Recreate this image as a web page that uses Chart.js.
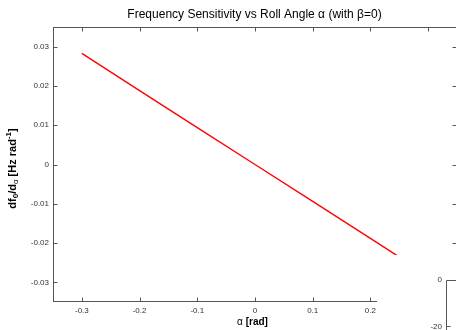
<!DOCTYPE html>
<html>
<head>
<meta charset="utf-8">
<script src="https://cdn.jsdelivr.net/npm/chart.js@4"></script>
<style>
html,body{margin:0;padding:0;background:#fff;overflow:hidden;}
#wrap{width:458px;height:330px;}
</style>
</head>
<body>
<div id="wrap"><canvas id="c" width="458" height="330"></canvas></div>
<script>
// ---- data ----
const alphaValues = [-0.3, -0.2, -0.1, 0, 0.1, 0.2, 0.3];
const sensitivityValues = [0.0283, 0.0188, 0.0094, 0.0, -0.0094, -0.0188, -0.0283];
const xTickValues = [-0.3, -0.2, -0.1, 0, 0.1, 0.2, 0.3];
const xTickLabels = ['-0.3', '-0.2', '-0.1', '0', '0.1', '0.2', '0.3'];
const yTickValues = [0.03, 0.02, 0.01, 0, -0.01, -0.02, -0.03];
const yTickLabels = ['0.03', '0.02', '0.01', '0', '-0.01', '-0.02', '-0.03'];
const insetTickLabels = ['0', '-20'];
const titleText = 'Frequency Sensitivity vs Roll Angle \u03b1 (with \u03b2=0)';

const AX = '#555';
const TXT = '#333';
const FONT = 'Arial, "Liberation Sans", sans-serif';

const points = alphaValues.map((a, i) => ({x: a, y: sensitivityValues[i]}));

const decor = {
  id: 'decor',
  afterDatasetsDraw(chart) {
    const {ctx, chartArea: ca, scales} = chart;
    ctx.save();
    ctx.strokeStyle = AX;
    ctx.lineWidth = 1;
    const L = Math.round(ca.left) + 0.5, R = Math.round(ca.right) - 0.5;
    const T = Math.round(ca.top) + 0.5, B = Math.round(ca.bottom) - 0.5;
    ctx.strokeRect(L, T, R - L, B - T);
    const tl = 4;
    ctx.beginPath();
    xTickValues.forEach(v => {
      const px = Math.round(scales.x.getPixelForValue(v)) + 0.5;
      ctx.moveTo(px, B); ctx.lineTo(px, B - tl);
      ctx.moveTo(px, T); ctx.lineTo(px, T + tl);
    });
    yTickValues.forEach(v => {
      const py = Math.round(scales.y.getPixelForValue(v)) + 0.5;
      ctx.moveTo(L, py); ctx.lineTo(L + tl, py);
      ctx.moveTo(R, py); ctx.lineTo(R - tl, py);
    });
    ctx.stroke();
    ctx.restore();
  },
  afterDraw(chart) {
    const {ctx, chartArea: ca} = chart;
    ctx.save();
    // title
    ctx.fillStyle = '#000';
    ctx.font = '12px ' + FONT;
    ctx.textAlign = 'center';
    ctx.textBaseline = 'middle';
    ctx.fillText(titleText, (ca.left + 456) / 2, 15);

    // x label: "α [rad]"
    const xc = (ca.left + 456) / 2 - 2;
    ctx.textBaseline = 'middle';
    const a1 = '\u03b1 ';
    ctx.font = 'bold 10px ' + FONT;
    const w2 = ctx.measureText('[rad]').width;
    ctx.font = '10px ' + FONT;
    const w1 = ctx.measureText(a1).width;
    let sx = xc - (w1 + w2) / 2;
    ctx.textAlign = 'left';
    ctx.fillText(a1, sx, 322);
    ctx.font = 'bold 10px ' + FONT;
    ctx.fillText('[rad]', sx + w1, 322);

    // y label rotated
    ctx.save();
    ctx.translate(13, (ca.top + ca.bottom) / 2 + 4);
    ctx.rotate(-Math.PI / 2);
    const parts = [
      {t: 'df', f: 'bold 11px ', dy: 0},
      {t: '0', f: 'bold 8px ', dy: 3},
      {t: '/d', f: 'bold 11px ', dy: 0},
      {t: '\u03b1', f: '8px ', dy: 3},
      {t: ' [Hz rad', f: 'bold 11px ', dy: 0},
      {t: '-1', f: 'bold 8px ', dy: -4},
      {t: ']', f: 'bold 11px ', dy: 0}
    ];
    let tw = 0;
    parts.forEach(p => { ctx.font = p.f + FONT; p.w = ctx.measureText(p.t).width; tw += p.w; });
    let px = -tw / 2;
    ctx.textAlign = 'left';
    ctx.textBaseline = 'middle';
    parts.forEach(p => { ctx.font = p.f + FONT; ctx.fillText(p.t, px, p.dy); px += p.w; });
    ctx.restore();

    // overlapping neighbouring axes (white background + partial axis)
    ctx.fillStyle = '#fff';
    ctx.fillRect(377, 255, 100, 100);
    ctx.strokeStyle = AX;
    ctx.lineWidth = 1;
    ctx.beginPath();
    ctx.moveTo(446.5, 330); ctx.lineTo(446.5, 280.5); ctx.lineTo(458, 280.5);
    ctx.moveTo(446.5, 326.5); ctx.lineTo(450.5, 326.5);
    ctx.stroke();
    ctx.fillStyle = TXT;
    ctx.font = '8px ' + FONT;
    ctx.textAlign = 'right';
    ctx.textBaseline = 'middle';
    ctx.fillText(insetTickLabels[0], 442, 280);
    ctx.fillText(insetTickLabels[1], 442, 327);
    ctx.restore();
  }
};

new Chart(document.getElementById('c'), {
  type: 'scatter',
  data: {
    datasets: [{
      data: points,
      showLine: true,
      borderColor: '#ff0000',
      borderWidth: 1.4,
      pointRadius: 0,
      tension: 0,
      fill: false
    }]
  },
  options: {
    responsive: false,
    animation: false,
    devicePixelRatio: 1,
    layout: {padding: {top: 27, right: 1, left: 0, bottom: 0}},
    plugins: {legend: {display: false}, tooltip: {enabled: false}, title: {display: false}},
    scales: {
      x: {
        type: 'linear', min: -0.35, max: 0.35,
        afterBuildTicks: s => { s.ticks = xTickValues.map(v => ({value: v})); },
        afterFit: s => { s.height = 28; },
        grid: {display: false, drawTicks: false},
        border: {display: false},
        ticks: {
          callback: (v, i) => xTickLabels[i],
          font: {size: 8, family: FONT}, color: TXT, padding: 4,
          maxRotation: 0, autoSkip: false
        }
      },
      y: {
        type: 'linear', min: -0.035, max: 0.035,
        afterBuildTicks: s => { s.ticks = yTickValues.map(v => ({value: v})); },
        afterFit: s => { s.width = 53; },
        grid: {display: false, drawTicks: false},
        border: {display: false},
        ticks: {
          callback: (v, i) => yTickLabels[i],
          font: {size: 8, family: FONT}, color: TXT, padding: 4,
          autoSkip: false
        }
      }
    }
  },
  plugins: [decor]
});
</script>
</body>
</html>
